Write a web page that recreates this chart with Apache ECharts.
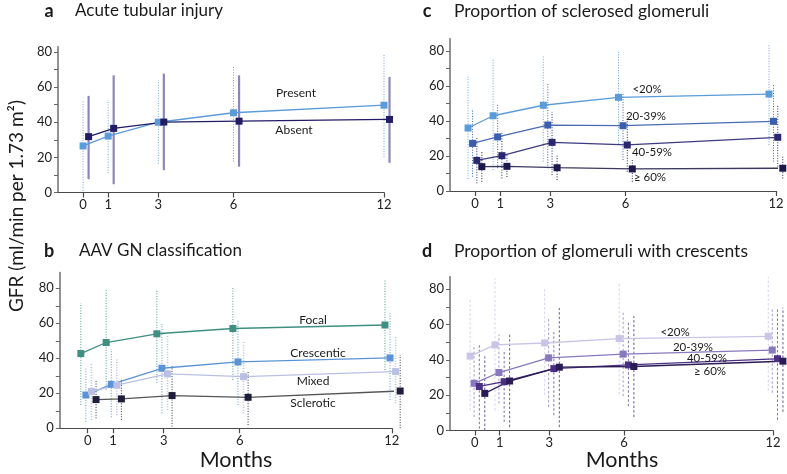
<!DOCTYPE html>
<html><head><meta charset="utf-8">
<script src="https://cdn.jsdelivr.net/npm/echarts@6/dist/echarts.min.js"></script>
<style>html,body{margin:0;padding:0;background:#fff}#c{width:787px;height:474px}</style>
</head><body><div id="c"></div>
<script>
// ---- data ----
const months = [0, 1, 3, 6, 12];
const monthTicks = [0, 1, 3, 6, 12];
const yTickValues = [0, 10, 20, 30, 40, 50, 60, 70, 80];
const yLabelValues = [0, 20, 40, 60, 80];

// a: Acute tubular injury
const aPresent   = [26.5, 32.1, 40.0, 45.4, 49.7];
const aPresentLo = [1.0, 11.0, 16.3, 17.6, 20.0];
const aPresentHi = [52.3, 52.6, 63.9, 72.4, 79.2];
const aAbsent    = [31.8, 36.5, 40.1, 40.6, 41.6];
const aAbsentLo  = [7.6, 4.7, 12.7, 14.7, 16.9];
const aAbsentHi  = [55.0, 66.7, 67.7, 66.7, 65.8];

// b: AAV GN classification
const bFocal     = [42.7, 49.0, 54.0, 57.0, 59.0];
const bFocalLo   = [13.3, 22.0, 26.0, 27.6, 33.3];
const bFocalHi   = [71.4, 79.0, 79.0, 81.0, 84.4];
const bCresc     = [19.0, 25.1, 34.3, 37.9, 40.2];
const bCrescLo   = [3.8, 6.3, 8.6, 13.3, 16.2];
const bCrescHi   = [34.3, 45.2, 60.0, 61.9, 65.7];
const bMixed     = [21.1, 24.6, 31.1, 29.5, 32.4];
const bMixedLo   = [4.8, 7.6, 10.5, 8.6, 14.3];
const bMixedHi   = [37.0, 40.0, 52.8, 49.5, 52.4];
const bScler     = [16.4, 16.8, 18.7, 17.7, 21.3];
const bSclerLo   = [5.7, 4.8, 1.0, 1.9, 0.0];
const bSclerHi   = [28.0, 28.6, 35.6, 32.4, 41.9];

// c: Proportion of sclerosed glomeruli
const cLt20      = [36.0, 43.0, 49.0, 53.5, 55.4];
const cLt20Lo    = [6.9, 12.0, 16.8, 27.0, 26.3];
const cLt20Hi    = [65.3, 75.8, 77.3, 80.6, 84.0];
const c20to39    = [27.2, 30.9, 37.7, 37.3, 39.8];
const c20to39Lo  = [8.2, 13.0, 13.0, 17.7, 16.8];
const c20to39Hi  = [46.9, 49.5, 61.7, 56.0, 61.0];
const c40to59    = [17.5, 20.2, 27.8, 26.3, 30.7];
const c40to59Lo  = [4.4, 7.2, 9.1, 11.0, 13.9];
const c40to59Hi  = [31.0, 33.3, 45.0, 43.4, 49.1];
const cGe60      = [13.9, 14.1, 13.3, 12.6, 13.0];
const cGe60Lo    = [5.3, 8.0, 6.3, 5.3, 7.2];
const cGe60Hi    = [22.5, 20.6, 20.2, 17.7, 19.6];

// d: Proportion of glomeruli with crescents
const dLt20      = [42.1, 48.4, 49.5, 52.0, 53.3];
const dLt20Lo    = [11.4, 11.4, 20.0, 20.4, 22.3];
const dLt20Hi    = [75.0, 86.0, 80.0, 83.4, 87.0];
const d20to39    = [26.7, 32.8, 41.1, 43.2, 45.5];
const d20to39Lo  = [7.6, 15.2, 13.3, 19.4, 21.3];
const d20to39Hi  = [48.6, 54.3, 63.8, 67.6, 69.5];
const d40to59    = [24.9, 27.6, 35.0, 37.1, 40.6];
const d40to59Lo  = [1.0, 4.8, 8.6, 13.7, 6.0];
const d40to59Hi  = [48.6, 45.7, 57.0, 61.9, 68.6];
const dGe60      = [21.0, 28.0, 35.8, 36.2, 39.2];
const dGe60Lo    = [0.0, 1.9, 1.9, 7.6, 10.5];
const dGe60Hi    = [41.9, 55.2, 69.3, 64.8, 69.5];

// ---- layout / style ----
const FONT = 'Lato, "Open Sans", sans-serif';
const panels = [
  {left: 58,   top: 46.7,  width: 326, height: 145.8, xmin: -1,   ymax: 83},
  {left: 59.8, top: 272.5, width: 332, height: 155.8, xmin: -1.1, ymax: 89},
  {left: 450,  top: 38.75, width: 326, height: 152.25, xmin: -1,  ymax: 87},
  {left: 450,  top: 276.7, width: 323, height: 153.8, xmin: -1,   ymax: 87}
];

const grid = panels.map(p => ({left: p.left, top: p.top, width: p.width, height: p.height, containLabel: false}));
const xAxis = panels.map((p, i) => ({
  gridIndex: i, type: 'value', min: p.xmin, max: 12,
  axisLine: {show: true, onZero: false, lineStyle: {color: '#4a4a4a', width: 1.2}},
  axisTick: {show: true, length: 5, customValues: monthTicks, lineStyle: {color: '#4a4a4a', width: 1.2}},
  axisLabel: {customValues: monthTicks, color: '#222', fontSize: 13, fontFamily: FONT, margin: 6},
  splitLine: {show: false}
}));
const yAxis = panels.map((p, i) => ({
  gridIndex: i, type: 'value', min: 0, max: p.ymax,
  axisLine: {show: true, onZero: false, lineStyle: {color: '#777', width: 1.6}},
  axisTick: {show: true, length: 4, customValues: yTickValues, lineStyle: {color: '#666', width: 1}},
  axisLabel: {customValues: yLabelValues, color: '#222', fontSize: 13, fontFamily: FONT, margin: 6},
  splitLine: {show: false}
}));

function lineS(gi, mean, off, color, lineColor) {
  return {
    type: 'line', xAxisIndex: gi, yAxisIndex: gi, clip: false, z: 3,
    data: months.map((m, k) => [m + off, mean[k]]),
    symbol: 'rect', symbolSize: 7, showAllSymbol: true,
    itemStyle: {color: color},
    lineStyle: {color: lineColor || color, width: 1.3},
    emphasis: {disabled: true}
  };
}
function barS(gi, lo, hi, off, color, width, dash) {
  return {
    type: 'custom', xAxisIndex: gi, yAxisIndex: gi, z: 1, clip: false,
    data: months.map((m, k) => [m + off, lo[k], hi[k]]),
    encode: {x: 0, y: [1, 2]},
    renderItem: function (params, api) {
      const a = api.coord([api.value(0), api.value(1)]);
      const b = api.coord([api.value(0), api.value(2)]);
      return {type: 'line', shape: {x1: a[0], y1: a[1], x2: b[0], y2: b[1]},
        style: {stroke: color, lineWidth: width, lineDash: dash || null}};
    }
  };
}
const DOT = [1, 1.6];
const DASH = [2.5, 2];

const series = [
  // a
  barS(0, aPresentLo, aPresentHi, 0, '#6aa6e0', 1, DOT),
  barS(0, aAbsentLo, aAbsentHi, 0.22, '#8c86ba', 2.2, null),
  lineS(0, aPresent, 0, '#5b9bd9'),
  lineS(0, aAbsent, 0.22, '#221b66'),
  // b
  barS(1, bFocalLo, bFocalHi, -0.27, '#4a9a8a', 1, DOT),
  barS(1, bCrescLo, bCrescHi, -0.07, '#5b93d8', 1, DOT),
  barS(1, bMixedLo, bMixedHi, 0.15, '#b9c0e3', 1.6, DOT),
  barS(1, bSclerLo, bSclerHi, 0.33, '#333', 1, DOT),
  lineS(1, bFocal, -0.27, '#3f8f80'),
  lineS(1, bCresc, -0.07, '#5b93d8'),
  lineS(1, bMixed, 0.15, '#b9c0e3'),
  lineS(1, bScler, 0.33, '#1e1d3b', '#555'),
  // c
  barS(2, cLt20Lo, cLt20Hi, -0.28, '#6aa6e0', 1, DOT),
  barS(2, c20to39Lo, c20to39Hi, -0.1, '#3b5fae', 1, DOT),
  barS(2, c40to59Lo, c40to59Hi, 0.07, '#2a2770', 1, DOT),
  barS(2, cGe60Lo, cGe60Hi, 0.27, '#1b1850', 1, DOT),
  lineS(2, cLt20, -0.28, '#5b9bd9'),
  lineS(2, c20to39, -0.1, '#3b5fae', '#4a6ab3'),
  lineS(2, c40to59, 0.07, '#2a2770', '#3d3a80'),
  lineS(2, cGe60, 0.27, '#1b1850', '#3a3860'),
  // d
  barS(3, dLt20Lo, dLt20Hi, -0.19, '#d6d3ec', 1, DASH),
  barS(3, d20to39Lo, d20to39Hi, -0.03, '#a89cd0', 1, DASH),
  barS(3, d40to59Lo, d40to59Hi, 0.18, '#8070a8', 1, DASH),
  barS(3, dGe60Lo, dGe60Hi, 0.4, '#6a5a98', 1, DASH),
  lineS(3, dLt20, -0.19, '#c9c5e6'),
  lineS(3, d20to39, -0.03, '#8878bd'),
  lineS(3, d40to59, 0.18, '#4b2f85'),
  lineS(3, dGe60, 0.4, '#2a1b55')
];

function txt(text, x, y, size, opts) {
  opts = opts || {};
  return {type: 'text', x: x, y: y, rotation: opts.rot || 0, z: 10,
    style: {text: text, fill: opts.color || '#1a1a1a',
      font: (opts.bold ? 'bold ' : '') + size + 'px ' + FONT,
      textAlign: opts.align || 'center', textVerticalAlign: 'middle',
      align: opts.align || 'center', verticalAlign: 'middle'}};
}
const graphics = [
  txt('a', 49, 11, 18, {bold: true}),
  txt('Acute tubular injury', 75, 11, 17, {align: 'left'}),
  txt('b', 49, 251, 18, {bold: true}),
  txt('AAV GN classification', 79, 251, 17, {align: 'left'}),
  txt('c', 427, 11, 18, {bold: true}),
  txt('Proportion of sclerosed glomeruli', 454, 11, 17.5, {align: 'left'}),
  txt('d', 427, 251, 18, {bold: true}),
  txt('Proportion of glomeruli with crescents', 454, 251, 17.5, {align: 'left'}),
  txt('GFR (ml/min per 1.73 m²)', 17, 206, 19, {rot: Math.PI / 2}),
  txt('Months', 236, 460, 21.5),
  txt('Months', 622, 460, 21.5),
  // in-panel labels
  txt('Present', 296, 93, 12),
  txt('Absent', 294, 130, 12),
  txt('Focal', 313, 320, 12),
  txt('Crescentic', 318, 353, 12),
  txt('Mixed', 313, 381, 12),
  txt('Sclerotic', 313, 403, 12),
  txt('<20%', 647, 89, 11.5),
  txt('20-39%', 646, 116, 11.5),
  txt('40-59%', 652, 152, 11.5),
  txt('≥ 60%', 650, 177, 11.5),
  txt('<20%', 675, 332, 11.5),
  txt('20-39%', 693, 347, 11.5),
  txt('40-59%', 707, 358, 11.5),
  txt('≥ 60%', 710, 371, 11.5)
];

const chart = echarts.init(document.getElementById('c'), null, {renderer: 'canvas'});
chart.setOption({
  animation: false,
  backgroundColor: '#fff',
  grid: grid, xAxis: xAxis, yAxis: yAxis, series: series,
  graphic: {elements: graphics}
});
</script></body></html>
